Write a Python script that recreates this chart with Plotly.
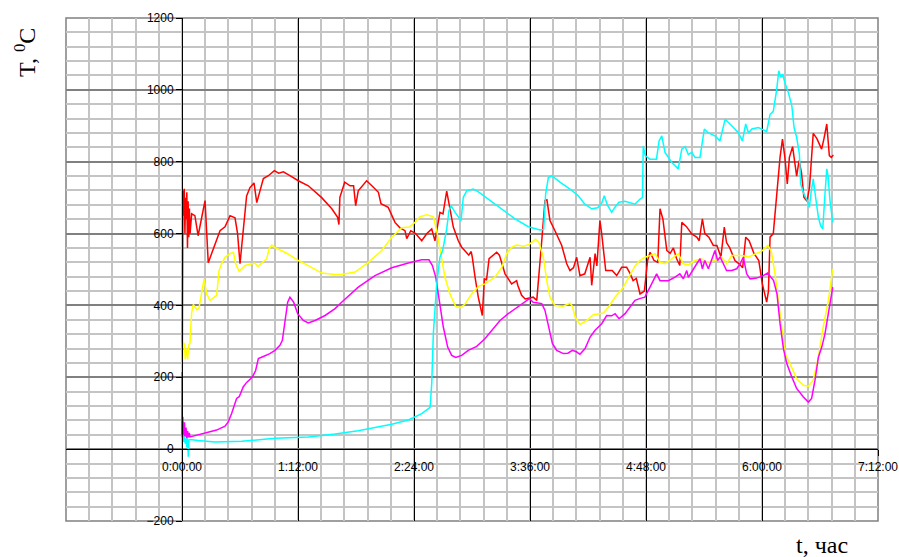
import plotly.graph_objects as go

# time in minutes, temperature in deg C
red_pts = [(0, 40), (0.3, 690), (0.6, 720), (1.0, 650), (1.4, 725), (1.8, 600), (2.2, 700), (2.6, 640),
           (3.0, 715), (3.4, 560), (3.8, 690), (4.2, 590), (4.6, 670), (5.0, 600), (6, 655), (8, 650),
           (10, 594), (12.2, 644), (14.3, 692), (16.3, 519), (18, 540), (20.5, 572), (23.6, 608),
           (26.7, 619), (29.8, 650), (32.9, 644), (34.5, 600), (36, 516), (38, 608), (40.1, 705),
           (42.2, 728), (44.7, 741), (46.4, 686), (48.4, 719), (50.5, 753), (53.6, 761), (57.3, 775),
           (60, 768), (62.9, 772), (67, 761), (72.2, 747), (78.4, 733), (86.7, 700), (93, 669),
           (96.6, 645), (97.4, 625), (98, 701), (101, 743), (104.3, 733), (106.5, 733), (107.8, 678),
           (109.4, 719), (114.6, 747), (118.8, 729), (121.9, 715), (123.5, 683), (128, 673),
           (132.2, 631), (135.3, 616), (138.4, 608), (139.5, 586), (142, 608), (145, 600),
           (148.8, 580), (152, 600), (155, 613), (157, 580), (160.1, 659), (162, 655), (164.3, 718),
           (166, 675), (168.4, 618), (171.5, 580), (173.6, 562), (176, 550), (178, 540), (179.5, 550),
           (180.2, 534), (181.9, 479), (183.9, 423), (186.4, 372), (187.7, 475), (189, 470),
           (190.6, 530), (195.3, 548), (197, 540), (200.5, 488), (204.6, 460), (207.7, 469),
           (208.5, 455), (210.8, 428), (213, 418), (218, 423), (220.2, 414), (223.3, 580),
           (225.3, 692), (226.5, 694), (228.4, 636), (231.5, 608), (235.7, 567), (238.8, 516),
           (240.8, 497), (243, 505), (245, 534), (247, 483), (250, 488), (253.3, 534), (254.3, 456),
           (256.4, 544), (257.5, 510), (259.4, 636), (260.5, 600), (263, 497), (267, 497),
           (269.8, 483), (272.9, 506), (276, 506), (278, 490), (280, 469), (282, 475), (284.3, 432),
           (287, 440), (289, 525), (290.5, 548), (293, 525), (295.3, 520), (296.7, 669), (298.5, 640),
           (300.9, 553), (303, 545), (305, 560), (307, 530), (309, 511), (310.2, 631), (313, 620),
           (316.4, 599), (319.5, 590), (321, 580), (323, 641), (324.5, 600), (327, 590), (329.8, 567),
           (332, 567), (334.5, 535), (336.6, 618), (338, 575), (340, 560), (343.2, 525), (346, 515),
           (348, 505), (349.9, 590), (352, 580), (355, 545), (358, 525), (360.2, 460), (362.9, 409),
           (364, 440), (365, 590), (367, 600), (369.1, 710), (371.2, 812), (372.7, 863), (374.2, 812),
           (375.7, 738), (377, 812), (379, 842), (380.5, 800), (381.5, 760), (383, 803), (384.5, 770),
           (386, 701), (388, 690), (389.5, 730), (391.8, 879), (394, 865), (397, 835), (398.5, 865),
           (400.2, 905), (401.8, 817), (403, 812), (404.3, 819)]

yellow_pts = [(0, 215), (0.3, 294), (1.5, 294), (2, 250), (2.8, 280), (3.5, 250), (4.2, 290), (5, 294),
              (5.3, 330), (6, 380), (7, 403), (8, 395), (9.1, 388), (10.5, 392), (12.2, 442),
              (13.7, 474), (15.3, 432), (17.4, 414), (21.5, 428), (23, 497), (24.5, 515), (26.7, 534),
              (29.8, 544), (31.9, 548), (33.3, 516), (35.4, 495), (39.1, 511), (43, 516), (45.3, 518),
              (47, 508), (49.5, 518), (52.6, 530), (54, 557), (55.7, 568), (58, 560), (63.9, 548),
              (68, 537), (72.2, 525), (78.4, 511), (86.7, 490), (95, 486), (99.1, 486), (107.4, 493),
              (115.7, 520), (124, 553), (130.2, 590), (136.4, 616), (141, 618), (144.6, 631),
              (147.7, 647), (151.9, 652), (156, 647), (158.1, 608), (160.1, 553), (163.2, 479),
              (166.3, 432), (169.9, 397), (172.6, 394), (175.5, 403), (179.8, 432), (184, 453),
              (188, 460), (194.3, 479), (198.5, 506), (201.5, 544), (204.6, 562), (207.8, 568),
              (212, 565), (215.6, 570), (219.5, 585), (221.5, 576), (224.3, 534), (226.4, 469),
              (228.4, 423), (231.5, 400), (236.5, 398), (240.8, 406), (242.3, 398), (244, 368),
              (247, 347), (251.2, 358), (255.3, 374), (261.5, 379), (264.6, 395), (268.8, 423),
              (273.9, 451), (278, 483), (281.2, 510), (284, 525), (287.4, 534), (293.6, 544),
              (296.7, 520), (299.8, 516), (303.9, 530), (308, 544), (311.2, 516), (314.3, 513),
              (318.4, 525), (322.5, 530), (325.6, 520), (330.8, 525), (334.9, 535), (338, 516),
              (341.2, 539), (347.4, 539), (351.6, 535), (355.7, 544), (359.8, 551), (363.7, 567),
              (365.8, 550), (368.1, 488), (370.5, 400), (372.2, 331), (374.3, 266), (377.4, 238),
              (381.5, 196), (385.7, 178), (388.8, 175), (391.8, 192), (395, 256), (398, 340),
              (401.2, 414), (403.9, 502)]

magenta_pts = [(0, 34), (0.5, 90), (1, 30), (1.5, 75), (2, 35), (2.5, 60), (3, 30), (3.5, 50), (4, 33),
               (4.5, 45), (5, 34), (9, 39), (14.3, 44), (21.5, 53), (26.7, 64), (28.7, 76), (30.8, 99),
               (33.9, 141), (35.5, 146), (38, 173), (40, 185), (43.7, 201), (45.7, 219), (47.4, 252),
               (50.5, 258), (54.5, 266), (57.7, 275), (60.8, 289), (62.3, 303), (63.9, 358),
               (65.6, 409), (67, 423), (69.3, 409), (71.8, 377), (75.3, 358), (78.4, 351), (82.6, 358),
               (88.8, 372), (95, 391), (99.1, 409), (109.4, 451), (119.8, 483), (130.2, 505),
               (140.5, 518), (148.8, 527), (153.3, 527), (155.4, 511), (157.5, 479), (159.5, 423),
               (162.2, 340), (164.9, 284), (167.4, 261), (169.9, 255), (173.6, 261), (177.7, 275),
               (182.9, 286), (188, 307), (192.2, 331), (197.4, 358), (202.5, 377), (207.8, 395),
               (212.9, 412), (215.6, 419), (218, 409), (223.3, 405), (225.3, 386), (227.4, 340),
               (229.9, 294), (232.6, 275), (236.7, 266), (239.5, 267), (242.3, 275), (244.8, 271),
               (247, 264), (250.2, 280), (253.3, 312), (256.4, 331), (260.5, 349), (263.6, 372),
               (266.7, 371), (268.8, 377), (271.3, 363), (275, 377), (278, 395), (281.2, 414),
               (284, 419), (287.3, 423), (290.5, 451), (294.6, 488), (296.7, 469), (301.9, 469),
               (306, 479), (309, 488), (311.2, 474), (313.3, 497), (314.3, 478), (317.4, 502),
               (319.5, 516), (321.6, 530), (323, 502), (324.5, 525), (326.7, 502), (329, 530),
               (330.8, 553), (332.5, 525), (334, 535), (336, 516), (338, 497), (341.2, 497),
               (344.3, 502), (346.4, 516), (348.4, 534), (350.5, 488), (352.6, 474), (356.7, 476),
               (360.8, 483), (363.5, 490), (365.5, 478), (367.2, 469), (369.3, 432), (371.2, 350),
               (373.3, 280), (375.4, 238), (378.5, 201), (381.5, 169), (385.7, 145), (388.8, 131),
               (390.8, 141), (392.9, 192), (395, 256), (397.1, 284), (399.1, 321), (401.2, 377),
               (403.9, 451)]

cyan_pts = [(0, 30), (0.5, 40), (1, 20), (1.5, 35), (2, 15), (2.5, 30), (3, 5), (3.5, 30), (3.9, -21),
            (4.3, 25), (5, 27), (10, 24), (20.5, 20), (37, 22), (57.7, 30), (78.4, 34), (95, 42),
            (109.4, 51), (130.2, 69), (140.5, 81), (148.8, 99), (154, 116), (155, 182), (156, 321),
            (158.1, 460), (160.1, 534), (161.8, 553), (164.3, 613), (165.7, 664), (167, 678),
            (169.5, 659), (173.2, 636), (174.6, 701), (176.7, 719), (180.8, 724), (184, 716),
            (190.1, 696), (198.4, 669), (206.7, 641), (215, 619), (222.2, 610), (224.5, 612),
            (225.7, 710), (227.4, 756), (229.5, 761), (234.6, 743), (240.8, 724), (246, 705),
            (250, 682), (254.3, 669), (258, 672), (260.5, 685), (262.1, 705), (264, 680), (266.7, 659),
            (268.5, 672), (271.2, 687), (275, 690), (278, 687), (281.2, 682), (284.3, 696),
            (285.8, 700), (286.3, 844), (287.5, 817), (290.5, 807), (294.5, 807), (296.1, 858),
            (297.8, 872), (299.8, 826), (304, 798), (308, 780), (310.2, 835), (312.3, 842),
            (314.3, 820), (316.4, 826), (318.4, 812), (321.5, 812), (324.2, 891), (326.7, 880),
            (330.8, 872), (333.9, 858), (337.1, 918), (341.2, 900), (345.3, 881), (347.8, 858),
            (349.9, 905), (351.6, 880), (353.7, 891), (357.8, 895), (362.9, 884), (365, 932),
            (367, 940), (369.1, 1000), (370.4, 1053), (371.7, 1035), (372.8, 1044), (374.2, 1020),
            (376.3, 993), (378.5, 956), (379.9, 895), (381.5, 868), (383.2, 821), (384, 738),
            (386, 710), (388.1, 692), (389.4, 673), (390.3, 710), (391.8, 752), (393.3, 700),
            (395, 645), (396.4, 622), (397.7, 613), (399.1, 710), (400.2, 780), (401, 760),
            (402.2, 692), (403.9, 631)]

x_tick_vals = [0, 72, 144, 216, 288, 360, 432]
x_tick_text = ["0:00:00", "1:12:00", "2:24:00", "3:36:00", "4:48:00", "6:00:00", "7:12:00"]
y_title = "T, <sup>0</sup>C"
x_title = "t, час"

series = [(red_pts, "#ff0000"), (yellow_pts, "#ffff00"), (magenta_pts, "#ff00ff"), (cyan_pts, "#00ffff")]

fig = go.Figure()
for pts, col in series:
    xs = [p[0] for p in pts]
    ys = [p[1] for p in pts]
    fig.add_trace(go.Scatter(x=xs, y=ys, mode="lines", line=dict(color=col, width=1.5), showlegend=False))

XR = [-72, 432]
YR = [-200, 1200]
xpos = (0 - YR[0]) / (YR[1] - YR[0])
ypos = (0 - XR[0]) / (XR[1] - XR[0])

tick_font = dict(family="Liberation Sans, Arial", size=12, color="black")

fig.update_layout(
    width=899, height=557,
    margin=dict(l=66, r=21, t=18, b=36, autoexpand=False),
    plot_bgcolor="white", paper_bgcolor="white",
    font=dict(family="Liberation Sans, Arial", size=12, color="black"),
    xaxis=dict(range=XR, tickmode="array", tickvals=x_tick_vals, ticktext=x_tick_text,
               showgrid=True, gridcolor="#000000", gridwidth=1, automargin=False,
               minor=dict(tickmode="linear", tick0=0, dtick=14.4, showgrid=True, gridcolor="#c4c4c4", gridwidth=1.5),
               anchor="free", position=xpos, showline=True, linecolor="black", linewidth=1,
               ticks="outside", ticklen=6, tickcolor="black", zeroline=False, tickfont=tick_font),
    yaxis=dict(range=YR, tickmode="linear", tick0=0, dtick=200,
               showgrid=True, gridcolor="#808080", gridwidth=1.5, automargin=False,
               minor=dict(tickmode="linear", tick0=0, dtick=40, showgrid=True, gridcolor="#c4c4c4", gridwidth=1.5),
               anchor="free", position=ypos, showline=True, linecolor="black", linewidth=1,
               ticks="outside", ticklen=6, tickcolor="black", zeroline=False, tickfont=tick_font),
    shapes=[
        dict(type="rect", xref="paper", yref="paper", x0=0, y0=0, x1=1, y1=1,
             line=dict(color="#808080", width=1.5), layer="below"),
        dict(type="line", xref="paper", yref="y", x0=0, x1=1, y0=1000, y1=1000,
             line=dict(color="black", width=1), layer="below"),
    ],
    annotations=[
        dict(text=y_title, xref="paper", yref="paper", x=(25 - 66) / 812, y=(521 - 53) / 503,
             showarrow=False, textangle=-90, xanchor="center", yanchor="middle",
             font=dict(family="Liberation Serif, Times New Roman", size=24, color="black")),
        dict(text=x_title, xref="paper", yref="paper", x=(822 - 66) / 812, y=(521 - 545) / 503,
             showarrow=False, xanchor="center", yanchor="middle",
             font=dict(family="Liberation Serif, Times New Roman", size=24, color="black")),
    ],
)

fig.write_html("out.html")
